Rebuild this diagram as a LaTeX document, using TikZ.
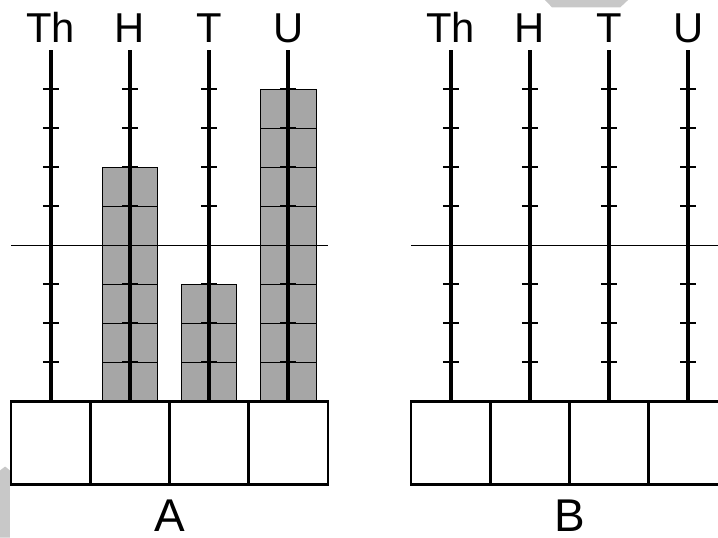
\documentclass[tikz,border=0pt]{standalone}
\usepackage{fontspec}
\setmainfont{Liberation Sans}
\usetikzlibrary{calc}

\tikzset{
  rod/.style = {line width = 3pt},
  tick/.style = {line width = 1.3pt},
  bead/.style = {fill = beadgray, draw = black, line width = 0.7pt},
  cell/.style = {draw = black, line width = 1.9pt},
  placelabel/.style = {anchor = base, inner sep = 0pt, font = \fontsize{30}{36}\selectfont},
  abacuslabel/.style = {anchor = base, inner sep = 0pt, font = \fontsize{33}{40}\selectfont}
}
\definecolor{beadgray}{RGB}{166,166,166}
\definecolor{markgray}{RGB}{200,200,200}

\begin{document}
\begin{tikzpicture}[y = 0.985cm]
    \useasboundingbox (-0.28,-3.49) rectangle (17.85,10.29);

    % stray grey marks
    \fill [markgray] (13.48,10.29) -- (15.58,10.29) -- (15.38,10.10) -- (13.66,10.10) -- cycle;
    \fill [markgray] (-0.28,-1.77) -- (-0.15,-1.67) -- (-0.03,-1.77) -- (-0.03,-3.49) -- (-0.28,-3.49) -- cycle;

    % abacus A
    \draw [line width = 1.1pt] (0,4) -- (8,4);

    \draw [bead] (2.3,0) rectangle (3.7,1);
    \draw [bead] (2.3,1) rectangle (3.7,2);
    \draw [bead] (2.3,2) rectangle (3.7,3);
    \draw [bead] (2.3,3) rectangle (3.7,4);
    \draw [bead] (2.3,4) rectangle (3.7,5);
    \draw [bead] (2.3,5) rectangle (3.7,6);
    \draw [bead] (4.3,0) rectangle (5.7,1);
    \draw [bead] (4.3,1) rectangle (5.7,2);
    \draw [bead] (4.3,2) rectangle (5.7,3);
    \draw [bead] (6.3,0) rectangle (7.7,1);
    \draw [bead] (6.3,1) rectangle (7.7,2);
    \draw [bead] (6.3,2) rectangle (7.7,3);
    \draw [bead] (6.3,3) rectangle (7.7,4);
    \draw [bead] (6.3,4) rectangle (7.7,5);
    \draw [bead] (6.3,5) rectangle (7.7,6);
    \draw [bead] (6.3,6) rectangle (7.7,7);
    \draw [bead] (6.3,7) rectangle (7.7,8);

    \draw [rod] (1,0) -- (1,9);
    \draw [rod] (3,0) -- (3,9);
    \draw [rod] (5,0) -- (5,9);
    \draw [rod] (7,0) -- (7,9);
    \draw [tick] (0.8,1) -- (1.2,1) (0.8,2) -- (1.2,2) (0.8,3) -- (1.2,3) (0.8,5) -- (1.2,5) (0.8,6) -- (1.2,6) (0.8,7) -- (1.2,7) (0.8,8) -- (1.2,8);
    \draw [tick] (2.8,1) -- (3.2,1) (2.8,2) -- (3.2,2) (2.8,3) -- (3.2,3) (2.8,5) -- (3.2,5) (2.8,6) -- (3.2,6) (2.8,7) -- (3.2,7) (2.8,8) -- (3.2,8);
    \draw [tick] (4.8,1) -- (5.2,1) (4.8,2) -- (5.2,2) (4.8,3) -- (5.2,3) (4.8,5) -- (5.2,5) (4.8,6) -- (5.2,6) (4.8,7) -- (5.2,7) (4.8,8) -- (5.2,8);
    \draw [tick] (6.8,1) -- (7.2,1) (6.8,2) -- (7.2,2) (6.8,3) -- (7.2,3) (6.8,5) -- (7.2,5) (6.8,6) -- (7.2,6) (6.8,7) -- (7.2,7) (6.8,8) -- (7.2,8);

    \draw [cell] (0,0) rectangle (2,-2.13);
    \draw [cell] (2,0) rectangle (4,-2.13);
    \draw [cell] (4,0) rectangle (6,-2.13);
    \draw [cell] (6,0) rectangle (8,-2.13);

    \node [placelabel] (thA) at (1,9.2) {Th};
    \node [placelabel] (hA) at (3,9.2) {H};
    \node [placelabel] (tA) at (5,9.2) {T};
    \node [placelabel] (uA) at (7,9.2) {U};
    \node [abacuslabel] (labA) at (4,-3.33) {A};

    % abacus B
    \draw [line width = 1.1pt] (10.1,4) -- (18.1,4);

    \draw [rod] (11.1,0) -- (11.1,9);
    \draw [rod] (13.1,0) -- (13.1,9);
    \draw [rod] (15.1,0) -- (15.1,9);
    \draw [rod] (17.1,0) -- (17.1,9);
    \draw [tick] (10.9,1) -- (11.3,1) (10.9,2) -- (11.3,2) (10.9,3) -- (11.3,3) (10.9,5) -- (11.3,5) (10.9,6) -- (11.3,6) (10.9,7) -- (11.3,7) (10.9,8) -- (11.3,8);
    \draw [tick] (12.9,1) -- (13.3,1) (12.9,2) -- (13.3,2) (12.9,3) -- (13.3,3) (12.9,5) -- (13.3,5) (12.9,6) -- (13.3,6) (12.9,7) -- (13.3,7) (12.9,8) -- (13.3,8);
    \draw [tick] (14.9,1) -- (15.3,1) (14.9,2) -- (15.3,2) (14.9,3) -- (15.3,3) (14.9,5) -- (15.3,5) (14.9,6) -- (15.3,6) (14.9,7) -- (15.3,7) (14.9,8) -- (15.3,8);
    \draw [tick] (16.9,1) -- (17.3,1) (16.9,2) -- (17.3,2) (16.9,3) -- (17.3,3) (16.9,5) -- (17.3,5) (16.9,6) -- (17.3,6) (16.9,7) -- (17.3,7) (16.9,8) -- (17.3,8);

    \draw [cell] (10.1,0) rectangle (12.1,-2.13);
    \draw [cell] (12.1,0) rectangle (14.1,-2.13);
    \draw [cell] (14.1,0) rectangle (16.1,-2.13);
    \draw [cell] (16.1,0) rectangle (18.1,-2.13);

    \node [placelabel] (thB) at (11.1,9.2) {Th};
    \node [placelabel] (hB) at (13.1,9.2) {H};
    \node [placelabel] (tB) at (15.1,9.2) {T};
    \node [placelabel] (uB) at (17.1,9.2) {U};
    \node [abacuslabel] (labB) at (14.1,-3.33) {B};
  \end{tikzpicture}
\end{document}
